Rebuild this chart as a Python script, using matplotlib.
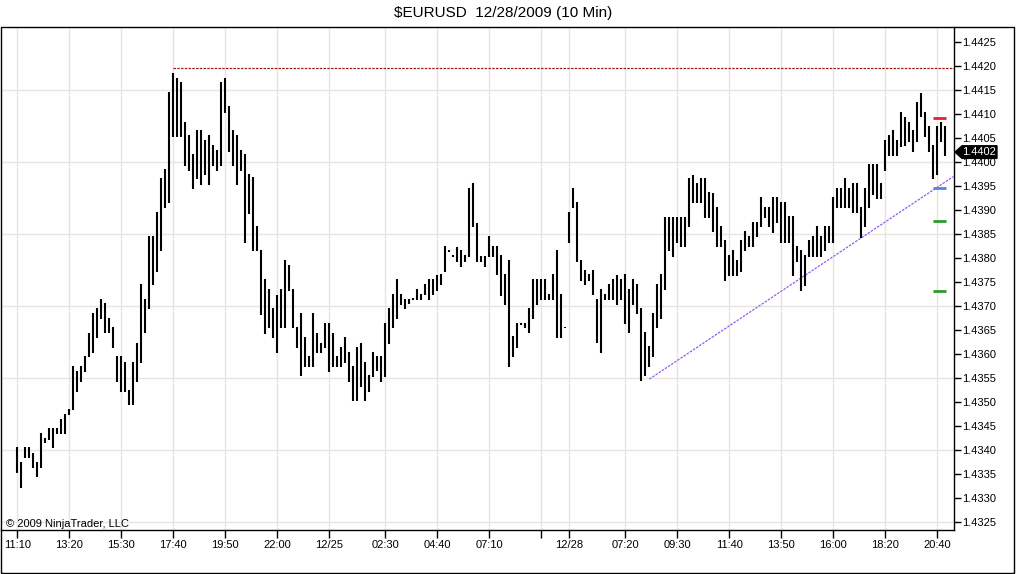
import matplotlib
matplotlib.use("Agg")
import matplotlib.pyplot as plt
from matplotlib.patches import Rectangle, Polygon
import numpy as np

plt.rcParams['font.family'] = ['Liberation Sans', 'DejaVu Sans']

W, H = 1016, 574

# 10 min bars, high / low
highs = [
    1.43406, 1.43375, 1.43405, 1.43405, 1.43394, 1.43375, 1.43434, 1.43424, 1.43445, 1.43445,
    1.43445, 1.43463, 1.43474, 1.43484, 1.43574, 1.43563, 1.43574, 1.43595, 1.43644, 1.43684,
    1.43695, 1.43713, 1.43705, 1.43674, 1.43656, 1.43595, 1.43595, 1.43583, 1.43524, 1.43583,
    1.43623, 1.43745, 1.43713, 1.43845, 1.43845, 1.43896, 1.43965, 1.43984, 1.44146, 1.44184,
    1.44174, 1.44165, 1.44083, 1.44056, 1.44016, 1.44066, 1.44066, 1.44045, 1.44056, 1.44035,
    1.44024, 1.44165, 1.44174, 1.44116, 1.44066, 1.44056, 1.44024, 1.44016, 1.43974, 1.43968,
    1.43866, 1.43816, 1.43755, 1.43734, 1.43695, 1.43722, 1.43734, 1.43795, 1.43785, 1.43734,
    1.43655, 1.43684, 1.43634, 1.43595, 1.43684, 1.43644, 1.43623, 1.43663, 1.43663, 1.43644,
    1.43595, 1.43613, 1.43634, 1.43604, 1.43574, 1.43613, 1.43623, 1.43583, 1.43556, 1.43604,
    1.43595, 1.43595, 1.43663, 1.43695, 1.43724, 1.43755, 1.43724, 1.43713, 1.43713, 1.43715,
    1.43734, 1.43724, 1.43745, 1.43755, 1.43755, 1.43764, 1.43766, 1.43824, 1.43815, 1.43806,
    1.43823, 1.43815, 1.43806, 1.43945, 1.43955, 1.43873, 1.43804, 1.43804, 1.43845, 1.43824,
    1.43824, 1.43806, 1.43766, 1.43795, 1.43636, 1.43663, 1.43663, 1.43663, 1.43695, 1.43755,
    1.43755, 1.43755, 1.43755, 1.43724, 1.43766, 1.43816, 1.43724, 1.43656, 1.43896, 1.43945,
    1.43917, 1.43795, 1.43774, 1.43766, 1.43774, 1.43713, 1.43734, 1.43724, 1.43745, 1.43755,
    1.43764, 1.43755, 1.43766, 1.43734, 1.43755, 1.43745, 1.43695, 1.43646, 1.43615, 1.43684,
    1.43745, 1.43766, 1.43884, 1.43884, 1.43884, 1.43884, 1.43884, 1.43884, 1.43965, 1.43972,
    1.43955, 1.43965, 1.43965, 1.43936, 1.43934, 1.43905, 1.43866, 1.43836, 1.43806, 1.43816,
    1.43795, 1.43836, 1.43856, 1.43845, 1.43875, 1.43875, 1.43926, 1.43905, 1.43906, 1.43926,
    1.43926, 1.43915, 1.43915, 1.43886, 1.43886, 1.43824, 1.43816, 1.43806, 1.43836, 1.43845,
    1.43866, 1.43845, 1.43866, 1.43866, 1.43926, 1.43945, 1.43945, 1.43965, 1.43945, 1.43955,
    1.43955, 1.43906, 1.43945, 1.43995, 1.43995, 1.43995, 1.43955, 1.44045, 1.44056, 1.44066,
    1.44045, 1.44104, 1.44094, 1.44083, 1.44066, 1.44125, 1.44144, 1.44104, 1.44074, 1.44035,
    1.44074, 1.44083, 1.44074,
]
lows = [
    1.43352, 1.43321, 1.43382, 1.43382, 1.43361, 1.43343, 1.43361, 1.43413, 1.43420, 1.43403,
    1.43433, 1.43433, 1.43433, 1.43472, 1.43483, 1.43521, 1.43542, 1.43561, 1.43593, 1.43602,
    1.43632, 1.43672, 1.43643, 1.43643, 1.43611, 1.43542, 1.43521, 1.43521, 1.43493, 1.43493,
    1.43542, 1.43581, 1.43643, 1.43693, 1.43743, 1.43771, 1.43813, 1.43903, 1.43913, 1.44052,
    1.44052, 1.44052, 1.43991, 1.43981, 1.43943, 1.43963, 1.43952, 1.43972, 1.43952, 1.43991,
    1.43981, 1.43991, 1.44102, 1.44021, 1.43991, 1.43952, 1.43981, 1.43831, 1.43891, 1.43813,
    1.43813, 1.43681, 1.43641, 1.43653, 1.43632, 1.43602, 1.43653, 1.43653, 1.43731, 1.43653,
    1.43611, 1.43554, 1.43572, 1.43572, 1.43572, 1.43602, 1.43602, 1.43611, 1.43561, 1.43572,
    1.43572, 1.43572, 1.43581, 1.43542, 1.43502, 1.43502, 1.43531, 1.43502, 1.43521, 1.43552,
    1.43563, 1.43542, 1.43552, 1.43620, 1.43653, 1.43672, 1.43702, 1.43693, 1.43704, 1.43711,
    1.43712, 1.43712, 1.43722, 1.43712, 1.43722, 1.43731, 1.43743, 1.43771, 1.43811, 1.43802,
    1.43792, 1.43781, 1.43792, 1.43802, 1.43863, 1.43792, 1.43792, 1.43781, 1.43802, 1.43802,
    1.43764, 1.43720, 1.43702, 1.43572, 1.43593, 1.43611, 1.43660, 1.43653, 1.43643, 1.43672,
    1.43702, 1.43712, 1.43712, 1.43712, 1.43712, 1.43632, 1.43632, 1.43653, 1.43831, 1.43903,
    1.43792, 1.43752, 1.43743, 1.43752, 1.43722, 1.43622, 1.43602, 1.43712, 1.43712, 1.43712,
    1.43702, 1.43712, 1.43662, 1.43643, 1.43702, 1.43683, 1.43544, 1.43554, 1.43573, 1.43594,
    1.43653, 1.43672, 1.43733, 1.43813, 1.43802, 1.43831, 1.43822, 1.43822, 1.43863, 1.43913,
    1.43913, 1.43913, 1.43882, 1.43882, 1.43854, 1.43823, 1.43823, 1.43752, 1.43762, 1.43762,
    1.43762, 1.43771, 1.43813, 1.43822, 1.43822, 1.43843, 1.43863, 1.43882, 1.43863, 1.43852,
    1.43873, 1.43831, 1.43831, 1.43831, 1.43762, 1.43792, 1.43731, 1.43741, 1.43802, 1.43802,
    1.43802, 1.43802, 1.43813, 1.43831, 1.43831, 1.43903, 1.43903, 1.43903, 1.43903, 1.43893,
    1.43893, 1.43840, 1.43863, 1.43903, 1.43931, 1.43922, 1.43922, 1.43981, 1.44012, 1.44012,
    1.44012, 1.44031, 1.44033, 1.44042, 1.44021, 1.44042, 1.44093, 1.44052, 1.44021, 1.43963,
    1.43972, 1.44042, 1.44012,
]

tick_bars = [0, 13, 26, 39, 52, 65, 78, 92, 105, 118, 131, 138, 152, 165, 178, 191, 204, 217, 230]
tick_labels = ["11:10", "13:20", "15:30", "17:40", "19:50", "22:00", "12/25", "02:30", "04:40",
               "07:10", "", "12/28", "07:20", "09:30", "11:40", "13:50", "16:00", "18:20", "20:40"]

high_line = 1.44195      # dashed resistance from the 17:40 high
high_line_start = 39
trend_x = [158, 234]     # rising trend line
trend_y = [1.43547, 1.43969]
levels = [1.44090, 1.43945, 1.43876, 1.43730]
level_colors = ["#e8202a", "#4f86d9", "#2c9a2c", "#2c9a2c"]
last_price = 1.4402

ylo, yhi = 1.432327, 1.442806
xlo, xhi = -4.075, 234.175
grid_col = "#e8e5de"

fig = plt.figure(figsize=(W / 100, H / 100), dpi=100)
ax = fig.add_axes([1 / W, 1 - 530 / H, 953 / W, 503 / H])
ax.set_xlim(xlo, xhi)
ax.set_ylim(ylo, yhi)

# grid
for p in np.arange(1.4325, 1.4420, 0.0015):
    ax.axhline(p, color=grid_col, lw=1, zorder=0)
for b in tick_bars:
    ax.axvline(b, color=grid_col, lw=1, zorder=0)

# bars
x = np.arange(len(highs))
ax.vlines(x, lows, highs, colors="black", linewidth=1.5, zorder=3)

# drawn objects
ax.plot([high_line_start, xhi], [high_line, high_line], color="#9b1c1c",
        lw=0.9, ls=(0, (2, 1)), zorder=2)
ax.plot(trend_x, trend_y, color="#8f5cf0", lw=0.9, ls=(0, (2, 1)), zorder=2)
for lv, c in zip(levels, level_colors):
    ax.plot([229, 232.2], [lv, lv], color=c, lw=2, solid_capstyle="butt", zorder=4)

# axes styling
for s in ["top", "left"]:
    ax.spines[s].set_visible(False)
ax.spines["right"].set_linewidth(1)
ax.spines["bottom"].set_linewidth(1)
ax.set_xticks(tick_bars)
ax.set_xticklabels(tick_labels)
ax.yaxis.tick_right()
yt = np.arange(1.4325, 1.44251, 0.0005)
ax.set_yticks(yt)
ax.set_yticklabels(["%.4f" % v for v in yt])
ax.tick_params(axis="x", direction="out", length=6, width=1, pad=1.5, labelsize=8)
ax.tick_params(axis="y", direction="out", length=5, width=1, pad=0.5, labelsize=8)

# last price marker
yc = 27 + (yhi - last_price) / (yhi - ylo) * 503
pts = [(955, yc), (962, yc - 6.3), (997, yc - 6.3), (997, yc + 6.3), (962, yc + 6.3)]
fig.patches.append(Polygon([(px / W, 1 - py / H) for px, py in pts], closed=True,
                           transform=fig.transFigure, facecolor="black", edgecolor="black",
                           zorder=10))
fig.text(979.5 / W, 1 - yc / H, "%.4f" % last_price, color="white", fontsize=8,
         ha="center", va="center", zorder=11)

# outer frame
fig.patches.append(Rectangle((0.5 / W, 1 - 572.5 / H), 1013 / W, 545.5 / H, fill=False,
                             edgecolor="black", lw=1, transform=fig.transFigure))

fig.text(503.5 / W, 1 - 13 / H, "$EURUSD  12/28/2009 (10 Min)", ha="center", va="center",
         fontsize=11)
fig.text(6 / W, 1 - 527 / H, "\u00a9 2009 NinjaTrader, LLC", ha="left", va="baseline",
         fontsize=8)

fig.savefig("out.png", dpi=100, facecolor="white")
